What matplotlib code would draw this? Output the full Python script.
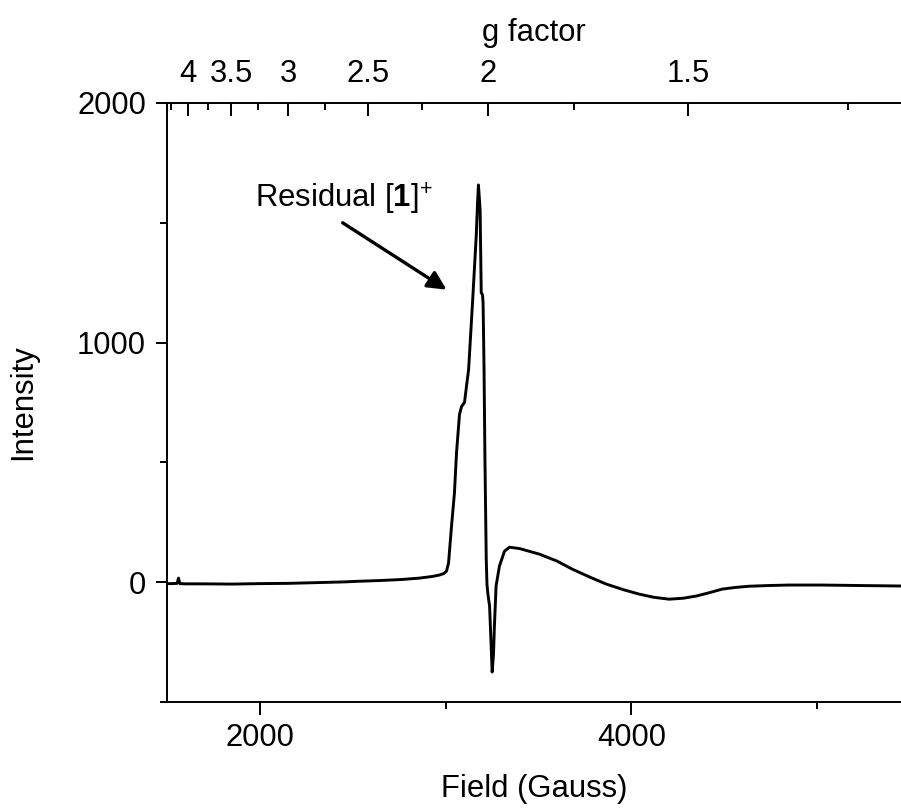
import matplotlib.pyplot as plt
import numpy as np

plt.rcParams['font.family'] = ['Liberation Sans', 'DejaVu Sans']
plt.rcParams['mathtext.fontset'] = 'custom'
plt.rcParams['mathtext.rm'] = 'Liberation Sans'
plt.rcParams['mathtext.bf'] = 'Liberation Sans:bold'

# EPR spectrum (Gauss, intensity)
field = [1500, 1530, 1555, 1562, 1570, 1600, 1700, 1850, 2000, 2150, 2300,
         2450, 2540, 2650, 2760, 2860, 2930, 2968, 2990, 3005, 3016, 3032,
         3048, 3059, 3075, 3086, 3102, 3113, 3124, 3145, 3165, 3172, 3177,
         3186, 3192, 3199, 3202, 3207, 3212, 3219, 3223, 3228, 3237, 3251,
         3258, 3263, 3272, 3290, 3317, 3344, 3400, 3505, 3600, 3683, 3780,
         3865, 3960, 4043, 4120, 4204, 4280, 4349, 4420, 4489, 4560, 4634,
         4740, 4849, 4940, 5027, 5130, 5226, 5340, 5452]
intensity = [-6, -6, -5, 17, -6, -7, -7, -8, -6, -5, -2,
             1, 4, 7, 11, 17, 24, 30, 36, 46, 80, 233,
             375, 541, 700, 733, 750, 820, 887, 1165, 1443, 1580, 1658,
             1554, 1208, 1200, 1165, 900, 512, 96, -10, -50, -100, -375,
             -300, -183, -16, 67, 129, 146, 140, 117, 88, 54, 20,
             -8, -32, -50, -63, -71, -67, -58, -44, -29, -22, -17,
             -14, -12, -12, -12, -13, -14, -15, -16]

g_major = [4, 3.5, 3, 2.5, 2, 1.5]
g_minor = [4.25, 3.75, 3.25, 2.75, 2.25, 1.75, 1.25]
g_field = 6460.0  # field * g at this microwave frequency

fs = 22.3
fig = plt.figure(figsize=(9.01, 8.09), dpi=100)
ax = fig.add_axes([0.1853, 0.1323, 0.8147, 0.7404])
ax.plot(field, intensity, color='black', lw=2.1)

ax.set_xlim(1500, 5452)
ax.set_ylim(-500, 2000)
ax.set_xticks([2000, 4000])
ax.set_xticks([3000, 5000], minor=True)
ax.set_yticks([0, 1000, 2000])
ax.set_yticks([-500, 500, 1500], minor=True)
ax.tick_params(which='both', direction='out', labelsize=fs, width=1.4)
ax.tick_params(axis='x', which='major', length=9.5, pad=6)
ax.tick_params(axis='y', which='major', length=8, pad=7)
ax.tick_params(which='minor', length=5)
for s in ['top', 'right']:
    ax.spines[s].set_visible(False)
for s in ['left', 'bottom']:
    ax.spines[s].set_linewidth(1.4)

ax.set_xlabel('Field (Gauss)', fontsize=fs)
ax.set_ylabel('Intensity', fontsize=fs)
ax.xaxis.set_label_coords(0.5, -0.12)
ax.yaxis.set_label_coords(-0.176, 0.5)

# top axis in g factor
ax2 = ax.twiny()
ax2.set_xlim(ax.get_xlim())
ax2.set_xticks(g_field / np.array(g_major))
ax2.set_xticklabels([str(g) for g in g_major])
ax2.set_xticks(g_field / np.array(g_minor), minor=True)
ax2.tick_params(which='both', direction='in', labelsize=fs, width=1.4, pad=10)
ax2.tick_params(which='major', length=9)
ax2.tick_params(which='minor', length=5)
for s in ['right', 'left', 'bottom']:
    ax2.spines[s].set_visible(False)
ax2.spines['top'].set_linewidth(1.4)
ax2.set_xlabel('g factor', fontsize=fs)
ax2.xaxis.set_label_coords(0.5, 1.104)

ax.text(1973, 1562, r'Residual [$\mathbf{1}$]$^{+}$', fontsize=fs,
        ha='left', va='baseline')
ax.annotate('', xy=(3005, 1221), xytext=(2446, 1500),
            arrowprops=dict(arrowstyle='-|>', color='black', lw=2.4,
                            mutation_scale=28, shrinkA=0, shrinkB=0))

fig.savefig('out.png', dpi=100)
